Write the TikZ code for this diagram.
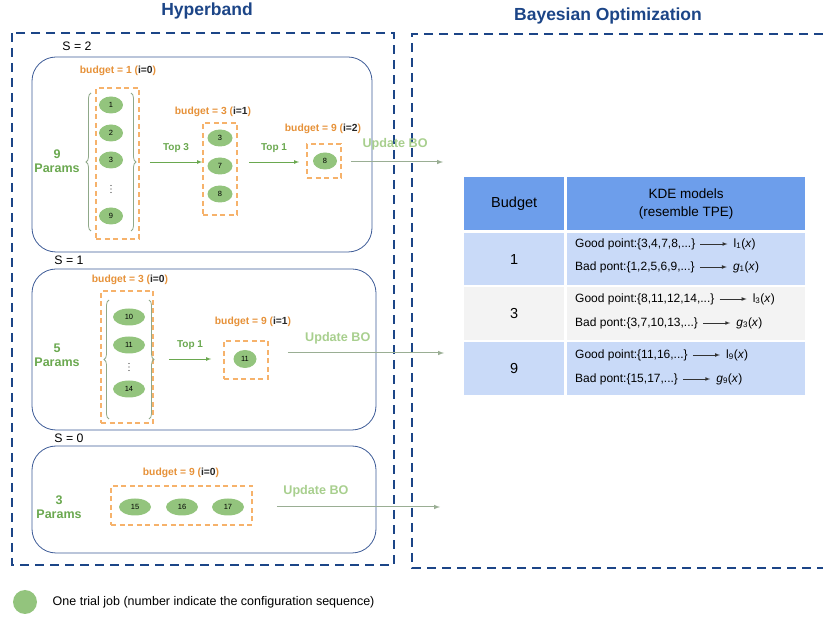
\documentclass[tikz,border=0pt]{standalone}
\usepackage{fontspec}
\setmainfont{Liberation Sans}
\usepackage{tikz}
\usetikzlibrary{arrows,positioning,shapes.geometric,decorations.pathreplacing}
\definecolor{hbblue}{HTML}{1C4587}
\definecolor{roundblue}{HTML}{3C5A96}
\definecolor{jobgreen}{HTML}{93C47D}
\definecolor{txtgreen}{HTML}{6AA84F}
\definecolor{boxorange}{HTML}{F6B26B}
\definecolor{budorange}{HTML}{E69138}
\definecolor{updgreen}{HTML}{A8CF8E}
\definecolor{updgrey}{HTML}{9AAE94}
\definecolor{bracegrey}{HTML}{8FA889}
\definecolor{hdrblue}{HTML}{6D9EEB}
\definecolor{rowblue}{HTML}{C9DAF8}
\definecolor{rowgrey}{HTML}{F3F3F3}
\newcommand{\budtext}[2]{budget = #1 (\textcolor{black!85}{i=#2})}
\newcommand{\kdel}[1]{l\textsubscript{#1}(\textit{x})}
\newcommand{\kdeg}[1]{\textit{g}\textsubscript{#1}(\textit{x})}

\begin{document}
\begin{tikzpicture}[x=1pt, y=-1pt,
  job/.style={ellipse, fill=jobgreen, minimum width=24pt, minimum height=17pt, inner sep=0pt, font=\fontsize{7.5}{8}\selectfont},
  wide job/.style={job, minimum width=32pt},
  budbox/.style={draw=boxorange, line width=1.6pt, dash pattern=on 5pt off 3.5pt, inner sep=0pt},
  roundbox/.style={draw=roundblue, line width=0.8pt, rounded corners=24pt},
  outerbox/.style={draw=hbblue, line width=2.2pt, dash pattern=on 9pt off 6pt},
  title/.style={font=\bfseries\fontsize{17.5}{20}\selectfont, text=hbblue},
  setlabel/.style={font=\fontsize{12.3}{14}\selectfont},
  budlabel/.style={font=\bfseries\fontsize{10.3}{12}\selectfont, text=budorange},
  params/.style={font=\bfseries\fontsize{12.5}{14}\selectfont, text=txtgreen, align=center},
  toparrow/.style={draw=txtgreen, -latex, line width=0.8pt},
  toplabel/.style={font=\bfseries\fontsize{10}{12}\selectfont, text=txtgreen, above=6pt},
  updarrow/.style={draw=updgrey, -latex, line width=1pt},
  updlabel/.style={font=\bfseries\fontsize{12.6}{14}\selectfont, text=updgreen, above=5pt},
  pbrace/.style={draw=bracegrey, line width=0.8pt, decorate, decoration={brace, amplitude=5pt}},
  vdots/.style={inner sep=0pt, minimum size=10pt},
  cell/.style={anchor=north west, inner sep=0pt, minimum height=53pt},
  kde/.style={font=\fontsize{12}{14}\selectfont, inner sep=2pt},
  kdearrow/.style={draw=black!80, -latex, line width=0.7pt, shorten >=4pt, shorten <=3pt}
]
\useasboundingbox (0,0) rectangle (823,617);

\node[title] (hbtitle) at (207,11) {Hyperband};
\node[title] (botitle) at (608,16) {Bayesian Optimization};
\draw[outerbox] (12,33) rectangle (394,565);
\draw[outerbox] (823,34) -- (412,34) -- (412,568) -- (823,568);

% S = 2
\node[setlabel] (s2) at (77,46) {S = 2};
\draw[roundbox] (32,57) rectangle (372,252);
\node[params] (par2) at (57,161) {9\\Params};
\node[budlabel] (bl20) at (118,71) {\budtext{1}{0}};
\node[budbox, minimum width=43pt, minimum height=151pt] (b20) at (117.5,163.5) {};
\node[job] (n1) at (111,105) {1};
\node[job] (n2) at (111,133) {2};
\node[job] (n3) at (111,160) {3};
\node[vdots] (n4) at (111,189) {};
\node[job] (n9) at (111,216) {9};
\foreach \d in {-3.5,0,3.5}
  \fill[black!80] ([yshift=\d pt]n4.center) circle (0.6pt);
\draw[pbrace] (91,231) -- (91,93);
\draw[pbrace] (131,93) -- (131,231);
\node[budlabel] (bl21) at (213,112) {\budtext{3}{1}};
\node[budbox, minimum width=34pt, minimum height=92pt] (b21) at (220,169) {};
\node[job, minimum width=25pt] (m3) at (220,138) {3};
\node[job, minimum width=25pt] (m7) at (220,166) {7};
\node[job, minimum width=25pt] (m8) at (220,194) {8};
\node[budlabel] (bl22) at (323,129) {\budtext{9}{2}};
\node[budbox, minimum width=34pt, minimum height=34pt] (b22) at (324,161) {};
\node[job] (t8) at (325,161) {8};
\coordinate (bo2) at (443,162);
\draw[toparrow] ([xshift=10pt]b20.east |- bo2) -- node[toplabel] {Top 3} (b21.west |- bo2);
\draw[toparrow] ([xshift=11pt]b21.east |- bo2) -- node[toplabel] {Top 1} ([xshift=-7pt]b22.west |- bo2);
\draw[updarrow] ([xshift=9pt]b22.east |- bo2) -- node[updlabel, above=8pt, pos=0.48] {Update BO} (bo2);

% S = 1
\node[setlabel] (s1) at (69,260) {S = 1};
\draw[roundbox] (32,269) rectangle (376,430);
\node[params] (par1) at (57,355) {5\\Params};
\node[budlabel] (bl10) at (130,280) {\budtext{3}{0}};
\node[budbox, minimum width=52pt, minimum height=132pt] (b10) at (127,357) {};
\node[wide job] (p10) at (129,317) {10};
\node[wide job] (p11) at (129,345) {11};
\node[vdots] (p12) at (129,367) {};
\node[wide job] (p14) at (129,389) {14};
\foreach \d in {-3.5,0,3.5}
  \fill[black!80] ([yshift=\d pt]p12.center) circle (0.6pt);
\draw[pbrace] (109,419) -- (109,300);
\draw[pbrace] (149,300) -- (149,419);
\node[budlabel] (bl11) at (253,322) {\budtext{9}{1}};
\node[budbox, minimum width=44pt, minimum height=38pt] (b11) at (246,360) {};
\node[job, minimum width=23pt, minimum height=18pt] (q11) at (245,359) {11};
\coordinate (bo1) at (444,353);
\draw[toparrow] ([xshift=15pt]b10.east |- q11) -- node[toplabel] {Top 1} ([xshift=-12pt]b11.west |- q11);
\draw[updarrow] ([xshift=19pt]b11.east |- bo1) -- node[updlabel, pos=0.32] {Update BO} (bo1);

% S = 0
\node[setlabel] (s0) at (69,438) {S = 0};
\draw[roundbox] (32,446) rectangle (376,553);
\node[params] (par0) at (59,507) {3\\Params};
\node[budlabel] (bl00) at (181,473) {\budtext{9}{0}};
\node[budbox, minimum width=141pt, minimum height=39pt] (b00) at (181.5,505.5) {};
\node[wide job] (r15) at (135,507) {15};
\node[wide job] (r16) at (182,507) {16};
\node[wide job] (r17) at (228,507) {17};
\coordinate (bo0) at (440,507);
\draw[updarrow] ([xshift=24pt]b00.east |- r17) -- node[updlabel, above=6pt, pos=0.24] {Update BO} (bo0);

% table
\node[cell, fill=hdrblue, minimum width=100pt, font=\fontsize{14.5}{16}\selectfont] (hbud) at (464,177) {Budget};
\node[cell, fill=hdrblue, minimum width=238pt, align=center, font=\fontsize{13.5}{18}\selectfont] (hkde) at (567,177) {KDE models\\(resemble TPE)};
\node[cell, fill=rowblue, minimum width=100pt, minimum height=52pt, font=\fontsize{14.5}{16}\selectfont] (c1) at (464,233) {1};
\node[cell, fill=rowblue, minimum width=238pt, minimum height=52pt] (k1) at (567,233) {};
\node[cell, fill=rowgrey, minimum width=100pt, font=\fontsize{14.5}{16}\selectfont] (c3) at (464,287) {3};
\node[cell, fill=rowgrey, minimum width=238pt] (k3) at (567,287) {};
\node[cell, fill=rowblue, minimum width=100pt, font=\fontsize{14.5}{16}\selectfont] (c9) at (464,342) {9};
\node[cell, fill=rowblue, minimum width=238pt] (k9) at (567,342) {};

\node[kde, anchor=west] (gp1) at (573,244) {Good point:\{3,4,7,8,...\}};
\node[kde, right=34pt of gp1] (l1) {\kdel{1}};
\node[kde, anchor=west] (bp1) at (573,267) {Bad pont:\{1,2,5,6,9,...\}};
\node[kde, right=34pt of bp1] (g1) {\kdeg{1}};
\node[kde, anchor=west] (gp3) at (573,299) {Good point:\{8,11,12,14,...\}};
\node[kde, right=34pt of gp3] (l3) {\kdel{3}};
\node[kde, anchor=west] (bp3) at (573,323) {Bad pont:\{3,7,10,13,...\}};
\node[kde, right=34pt of bp3] (g3) {\kdeg{3}};
\node[kde, anchor=west] (gp9) at (573,355) {Good point:\{11,16,...\}};
\node[kde, right=34pt of gp9] (l9) {\kdel{9}};
\node[kde, anchor=west] (bp9) at (573,379) {Bad pont:\{15,17,...\}};
\node[kde, right=34pt of bp9] (g9) {\kdeg{9}};
\draw[kdearrow] (gp1) -- (l1);
\draw[kdearrow] (bp1) -- (g1);
\draw[kdearrow] (gp3) -- (l3);
\draw[kdearrow] (bp3) -- (g3);
\draw[kdearrow] (gp9) -- (l9);
\draw[kdearrow] (bp9) -- (g9);

% legend
\node[circle, fill=jobgreen, minimum size=24pt, inner sep=0pt] (legjob) at (25,602) {};
\node[right=12pt of legjob, font=\fontsize{12.5}{14}\selectfont] (legtext) {One trial job (number indicate the configuration sequence)};
\end{tikzpicture}
\end{document}
